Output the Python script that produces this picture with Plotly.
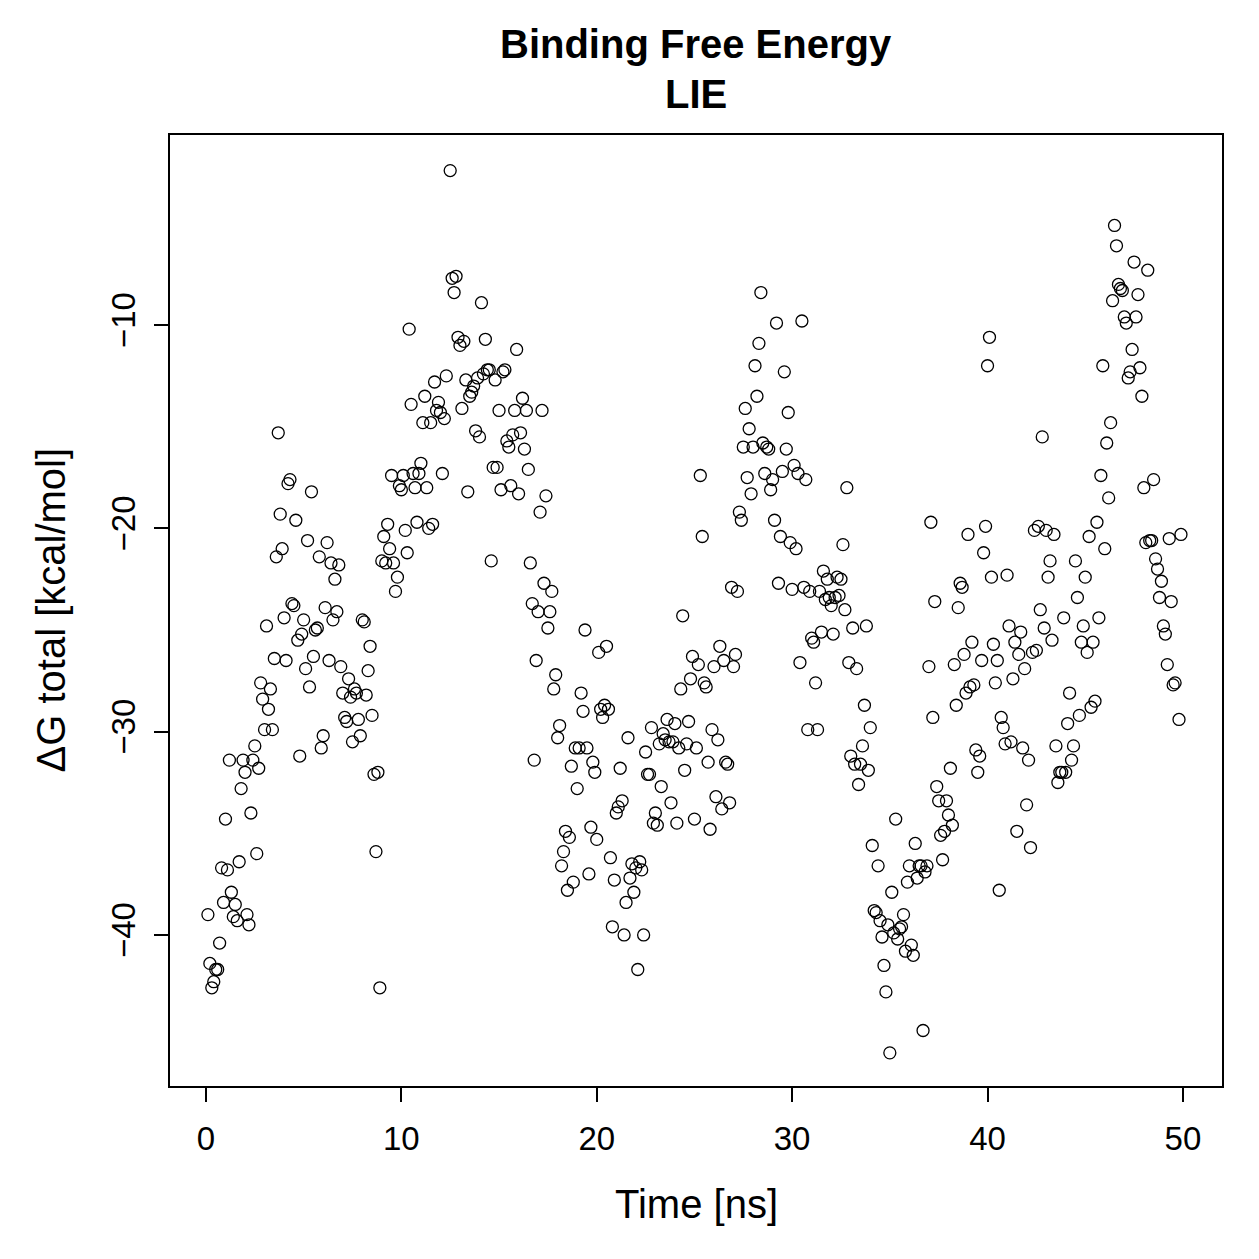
import plotly.graph_objects as go

time_ns = [
0.1,0.2,0.3,0.4,0.5,0.6,0.7,0.8,0.9,1.0,1.1,1.2,1.3,1.4,1.5,1.6,1.7,1.8,1.9,2.0,
2.1,2.2,2.3,2.4,2.5,2.6,2.7,2.8,2.9,3.0,3.1,3.2,3.3,3.4,3.5,3.6,3.7,3.8,3.9,4.0,
4.1,4.2,4.3,4.4,4.5,4.6,4.7,4.8,4.9,5.0,5.1,5.2,5.3,5.4,5.5,5.6,5.7,5.8,5.9,6.0,
6.1,6.2,6.3,6.4,6.5,6.6,6.7,6.8,6.9,7.0,7.1,7.2,7.3,7.4,7.5,7.6,7.7,7.8,7.9,8.0,
8.1,8.2,8.3,8.4,8.5,8.6,8.7,8.8,8.9,9.0,9.1,9.2,9.3,9.4,9.5,9.6,9.7,9.8,9.9,10.0,
10.1,10.2,10.3,10.4,10.5,10.6,10.7,10.8,10.9,11.0,11.1,11.2,11.3,11.4,11.5,11.6,11.7,11.8,11.9,12.0,
12.1,12.2,12.3,12.5,12.6,12.7,12.8,12.9,13.0,13.1,13.2,13.3,13.4,13.5,13.6,13.7,13.8,13.9,14.0,14.1,
14.2,14.3,14.4,14.5,14.6,14.7,14.8,14.9,15.0,15.1,15.2,15.3,15.4,15.5,15.6,15.7,15.8,15.9,16.0,16.1,
16.2,16.3,16.4,16.5,16.6,16.7,16.8,16.9,17.0,17.1,17.2,17.3,17.4,17.5,17.6,17.7,17.8,17.9,18.0,18.1,
18.2,18.3,18.4,18.5,18.6,18.7,18.8,18.9,19.0,19.1,19.2,19.3,19.4,19.5,19.6,19.7,19.8,19.9,20.0,20.1,
20.2,20.3,20.4,20.5,20.6,20.7,20.8,20.9,21.0,21.1,21.2,21.3,21.4,21.5,21.6,21.7,21.8,21.9,22.0,22.1,
22.2,22.3,22.4,22.5,22.6,22.7,22.8,22.9,23.0,23.1,23.2,23.3,23.4,23.5,23.6,23.7,23.8,23.9,24.0,24.1,
24.2,24.3,24.4,24.5,24.6,24.7,24.8,24.9,25.0,25.1,25.2,25.3,25.4,25.5,25.6,25.7,25.8,25.9,26.0,26.1,
26.2,26.3,26.4,26.5,26.6,26.7,26.8,26.9,27.0,27.1,27.2,27.3,27.4,27.5,27.6,27.7,27.8,27.9,28.0,28.1,
28.2,28.3,28.4,28.5,28.6,28.7,28.8,28.9,29.0,29.1,29.2,29.3,29.4,29.5,29.6,29.7,29.8,29.9,30.0,30.1,
30.2,30.3,30.4,30.5,30.6,30.7,30.8,30.9,31.0,31.1,31.2,31.3,31.4,31.5,31.6,31.7,31.8,31.9,32.0,32.1,
32.2,32.3,32.4,32.5,32.6,32.7,32.8,32.9,33.0,33.1,33.2,33.3,33.4,33.5,33.6,33.7,33.8,33.9,34.0,34.1,
34.2,34.3,34.4,34.5,34.6,34.7,34.8,34.9,35.0,35.1,35.2,35.3,35.4,35.5,35.6,35.7,35.8,35.9,36.0,36.1,
36.2,36.3,36.4,36.5,36.6,36.7,36.8,36.9,37.0,37.1,37.2,37.3,37.4,37.5,37.6,37.7,37.8,37.9,38.0,38.1,
38.2,38.3,38.4,38.5,38.6,38.7,38.8,38.9,39.0,39.1,39.2,39.3,39.4,39.5,39.6,39.7,39.8,39.9,40.0,40.1,
40.2,40.3,40.4,40.5,40.6,40.7,40.8,40.9,41.0,41.1,41.2,41.3,41.4,41.5,41.6,41.7,41.8,41.9,42.0,42.1,
42.2,42.3,42.4,42.5,42.6,42.7,42.8,42.9,43.0,43.1,43.2,43.3,43.4,43.5,43.6,43.7,43.8,43.9,44.0,44.1,
44.2,44.3,44.4,44.5,44.6,44.7,44.8,44.9,45.0,45.1,45.2,45.3,45.4,45.5,45.6,45.7,45.8,45.9,46.0,46.1,
46.2,46.3,46.4,46.5,46.6,46.7,46.8,46.9,47.0,47.1,47.2,47.3,47.4,47.5,47.6,47.7,47.8,47.9,48.0,48.1,
48.2,48.3,48.4,48.5,48.6,48.7,48.8,48.9,49.0,49.1,49.2,49.3,49.4,49.5,49.6,49.8,49.9,
]

dg_total = [
-39.0,-41.4,-42.6,-42.3,-41.7,-41.7,-40.4,-36.7,-38.4,-34.3,-36.8,-31.4,-37.9,-39.1,-38.5,-39.3,-36.4,-32.8,-31.4,-32.0,
-39.0,-39.5,-34.0,-31.4,-30.7,-36.0,-31.8,-27.6,-28.4,-29.9,-24.8,-28.9,-27.9,-29.9,-26.4,-21.4,-15.3,-19.3,-21.0,-24.4,
-26.5,-17.8,-17.6,-23.7,-23.8,-19.6,-25.5,-31.2,-25.2,-24.5,-26.9,-20.6,-27.8,-18.2,-26.3,-25.0,-24.9,-21.4,-30.8,-30.2,
-23.9,-20.7,-26.5,-21.7,-24.5,-22.5,-24.1,-21.8,-26.8,-28.1,-29.3,-29.5,-27.4,-28.3,-30.5,-27.9,-28.1,-29.4,-30.2,-24.5,
-24.6,-28.2,-27.0,-25.8,-29.2,-32.1,-35.9,-32.0,-42.6,-21.6,-20.4,-21.7,-19.8,-21.0,-17.4,-21.7,-23.1,-22.4,-17.9,-18.1,
-17.4,-20.1,-21.2,-10.2,-13.9,-17.3,-18.0,-19.7,-17.3,-16.8,-14.8,-13.5,-18.0,-20.0,-14.8,-19.8,-12.8,-14.2,-13.8,-14.3,
-17.3,-14.6,-12.5,-2.4,-7.7,-8.4,-7.6,-10.6,-11.0,-14.1,-10.8,-12.7,-18.2,-13.5,-13.3,-13.0,-15.2,-12.6,-15.5,-8.9,
-12.4,-10.7,-12.2,-12.2,-21.6,-17.0,-12.7,-17.0,-14.2,-18.1,-12.3,-12.2,-15.7,-16.0,-17.9,-15.4,-14.2,-11.2,-18.3,-15.3,
-13.6,-16.1,-14.2,-17.1,-21.7,-23.7,-31.4,-26.5,-24.1,-19.2,-14.2,-22.7,-18.4,-24.9,-24.1,-23.1,-27.9,-27.2,-30.3,-29.7,
-36.6,-35.9,-34.9,-37.8,-35.2,-31.7,-37.4,-30.8,-32.8,-30.8,-28.1,-29.0,-25.0,-30.8,-37.0,-34.7,-31.5,-32.0,-35.3,-26.1,
-28.9,-29.3,-28.7,-25.8,-28.9,-36.2,-39.6,-37.3,-34.0,-33.7,-31.8,-33.4,-40.0,-38.4,-30.3,-37.2,-36.5,-37.9,-36.7,-41.7,
-36.4,-36.8,-40.0,-31.0,-32.1,-32.1,-29.8,-34.5,-34.0,-34.6,-30.6,-32.7,-30.1,-30.4,-29.4,-30.5,-33.5,-30.5,-29.6,-34.5,
-30.8,-27.9,-24.3,-31.9,-30.6,-29.5,-27.4,-26.3,-34.3,-30.8,-26.7,-17.4,-20.4,-27.6,-27.8,-31.5,-34.8,-29.9,-26.8,-33.2,
-30.4,-25.8,-33.8,-26.5,-31.5,-31.6,-33.5,-22.9,-26.8,-26.2,-23.1,-19.2,-19.6,-16.0,-14.1,-17.5,-15.1,-18.3,-16.0,-12.0,
-13.5,-10.9,-8.4,-15.8,-17.3,-16.0,-16.1,-18.1,-17.6,-19.6,-9.9,-22.7,-20.4,-17.2,-12.3,-16.1,-14.3,-20.7,-23.0,-16.9,
-21.0,-17.3,-26.6,-9.8,-22.9,-17.6,-29.9,-23.1,-25.4,-25.6,-27.6,-29.9,-23.1,-25.1,-22.1,-23.5,-22.5,-23.4,-23.8,-25.2,
-23.4,-22.4,-23.3,-22.5,-20.8,-24.0,-18.0,-26.6,-31.2,-24.9,-31.6,-26.9,-32.6,-31.6,-30.7,-28.7,-24.8,-31.9,-29.8,-35.6,
-38.8,-38.9,-36.6,-39.3,-40.1,-41.5,-42.8,-39.5,-45.8,-37.9,-39.9,-34.3,-40.2,-39.7,-39.6,-39.0,-40.8,-37.4,-36.6,-40.5,
-41.0,-35.5,-37.2,-36.6,-36.6,-44.7,-36.9,-36.6,-26.8,-19.7,-29.3,-23.6,-32.7,-33.4,-35.1,-36.3,-34.9,-33.4,-34.1,-31.8,
-34.6,-26.7,-28.7,-23.9,-22.7,-22.9,-26.2,-28.1,-20.3,-27.8,-25.6,-27.7,-30.9,-32.0,-31.2,-26.5,-21.2,-19.9,-12.0,-10.6,
-22.4,-25.7,-27.6,-26.5,-37.8,-29.3,-29.8,-30.6,-22.3,-24.8,-30.5,-27.4,-25.6,-34.9,-26.2,-25.1,-30.8,-26.9,-33.6,-31.4,
-35.7,-26.1,-20.1,-26.0,-19.9,-24.0,-15.5,-24.9,-20.1,-22.4,-21.6,-25.5,-20.3,-30.7,-32.5,-32.0,-32.0,-24.4,-32.0,-29.6,
-28.1,-31.4,-30.7,-21.6,-23.4,-29.2,-25.6,-24.8,-22.4,-26.1,-20.4,-28.8,-25.6,-28.5,-19.7,-24.4,-17.4,-12.0,-21.0,-15.8,
-18.5,-14.8,-8.8,-5.1,-6.1,-8.0,-8.2,-8.3,-9.6,-9.9,-12.6,-12.3,-11.2,-6.9,-9.6,-8.5,-12.1,-13.5,-18.0,-20.7,
-7.3,-20.6,-20.6,-17.6,-21.5,-22.0,-23.4,-22.6,-24.8,-25.2,-26.7,-20.5,-23.6,-27.7,-27.6,-29.4,-20.3,
]

x_ticks = [0, 10, 20, 30, 40, 50]
y_ticks = [-40, -30, -20, -10]

FONT = "Liberation Sans, Arial, Helvetica, sans-serif"

fig = go.Figure()
fig.add_trace(go.Scatter(
    x=time_ns, y=dg_total, mode="markers",
    marker=dict(symbol="circle-open", size=12, color="black", line=dict(width=1.3, color="black")),
    showlegend=False, hoverinfo="x+y",
))

axis_common = dict(
    showgrid=False, zeroline=False, showline=True, linecolor="black", linewidth=2,
    mirror=True, ticks="outside", ticklen=14, tickwidth=2, tickcolor="black",
    tickfont=dict(family=FONT, size=33, color="black"),
)

fig.update_layout(
    width=1259, height=1259,
    margin=dict(l=170, r=37, t=135, b=173),
    paper_bgcolor="white", plot_bgcolor="white",
    xaxis=dict(range=[-1.84, 52.0], tickvals=x_ticks, ticklabelstandoff=8, **axis_common),
    yaxis=dict(range=[-47.43, -0.65], tickvals=y_ticks, tickangle=-90, ticklabelstandoff=6, **axis_common),
    annotations=[
        dict(text="<b>Binding Free Energy</b>", xref="paper", yref="paper", x=0.5, y=1.0,
             yshift=91, showarrow=False, yanchor="middle",
             font=dict(family=FONT, size=40, color="black")),
        dict(text="<b>LIE</b>", xref="paper", yref="paper", x=0.5, y=1.0,
             yshift=41, showarrow=False, yanchor="middle",
             font=dict(family=FONT, size=40, color="black")),
        dict(text="Time [ns]", xref="paper", yref="paper", x=0.5, y=0.0,
             yshift=-118, showarrow=False, yanchor="middle",
             font=dict(family=FONT, size=40, color="black")),
        dict(text="ΔG total [kcal/mol]", xref="paper", yref="paper", x=0.0, y=0.5,
             xshift=-120, showarrow=False, xanchor="center", textangle=-90,
             font=dict(family=FONT, size=40, color="black")),
    ],
)

fig.write_html("out.html")
